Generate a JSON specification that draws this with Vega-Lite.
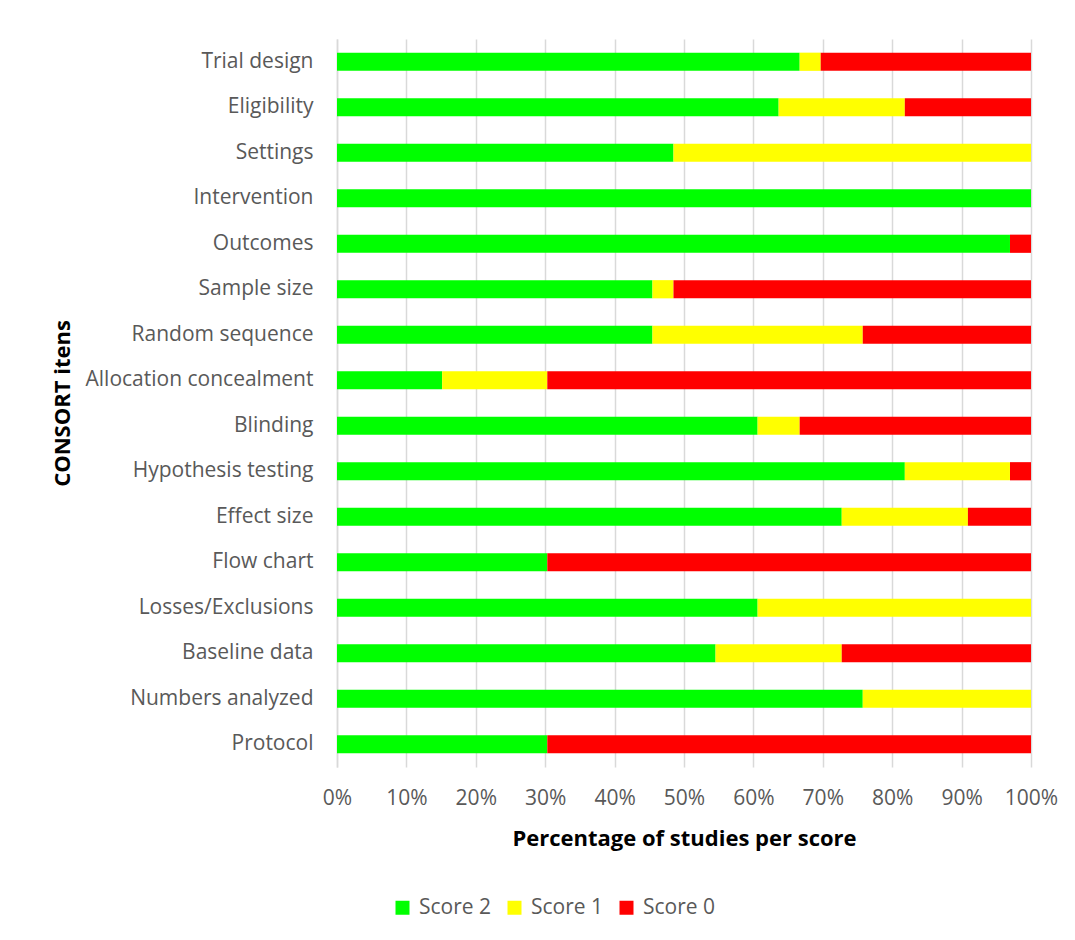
{
  "$schema": "https://vega.github.io/schema/vega-lite/v6.json",
  "autosize": {"type": "none"},
  "padding": {"left": 337, "top": 39, "right": 44, "bottom": 173},
  "width": 694,
  "height": 728,
  "background": "white",
  "config": {
    "font": "Open Sans",
    "view": {"stroke": null}
  },
  "data": {
    "values": [
      {"item": "Trial design", "score": "Score 2", "rank": 1, "studies": 22},
      {"item": "Trial design", "score": "Score 1", "rank": 2, "studies": 1},
      {"item": "Trial design", "score": "Score 0", "rank": 3, "studies": 10},
      {"item": "Eligibility", "score": "Score 2", "rank": 1, "studies": 21},
      {"item": "Eligibility", "score": "Score 1", "rank": 2, "studies": 6},
      {"item": "Eligibility", "score": "Score 0", "rank": 3, "studies": 6},
      {"item": "Settings", "score": "Score 2", "rank": 1, "studies": 16},
      {"item": "Settings", "score": "Score 1", "rank": 2, "studies": 17},
      {"item": "Settings", "score": "Score 0", "rank": 3, "studies": 0},
      {"item": "Intervention", "score": "Score 2", "rank": 1, "studies": 33},
      {"item": "Intervention", "score": "Score 1", "rank": 2, "studies": 0},
      {"item": "Intervention", "score": "Score 0", "rank": 3, "studies": 0},
      {"item": "Outcomes", "score": "Score 2", "rank": 1, "studies": 32},
      {"item": "Outcomes", "score": "Score 1", "rank": 2, "studies": 0},
      {"item": "Outcomes", "score": "Score 0", "rank": 3, "studies": 1},
      {"item": "Sample size", "score": "Score 2", "rank": 1, "studies": 15},
      {"item": "Sample size", "score": "Score 1", "rank": 2, "studies": 1},
      {"item": "Sample size", "score": "Score 0", "rank": 3, "studies": 17},
      {"item": "Random sequence", "score": "Score 2", "rank": 1, "studies": 15},
      {"item": "Random sequence", "score": "Score 1", "rank": 2, "studies": 10},
      {"item": "Random sequence", "score": "Score 0", "rank": 3, "studies": 8},
      {"item": "Allocation concealment", "score": "Score 2", "rank": 1, "studies": 5},
      {"item": "Allocation concealment", "score": "Score 1", "rank": 2, "studies": 5},
      {"item": "Allocation concealment", "score": "Score 0", "rank": 3, "studies": 23},
      {"item": "Blinding", "score": "Score 2", "rank": 1, "studies": 20},
      {"item": "Blinding", "score": "Score 1", "rank": 2, "studies": 2},
      {"item": "Blinding", "score": "Score 0", "rank": 3, "studies": 11},
      {"item": "Hypothesis testing", "score": "Score 2", "rank": 1, "studies": 27},
      {"item": "Hypothesis testing", "score": "Score 1", "rank": 2, "studies": 5},
      {"item": "Hypothesis testing", "score": "Score 0", "rank": 3, "studies": 1},
      {"item": "Effect size", "score": "Score 2", "rank": 1, "studies": 24},
      {"item": "Effect size", "score": "Score 1", "rank": 2, "studies": 6},
      {"item": "Effect size", "score": "Score 0", "rank": 3, "studies": 3},
      {"item": "Flow chart", "score": "Score 2", "rank": 1, "studies": 10},
      {"item": "Flow chart", "score": "Score 1", "rank": 2, "studies": 0},
      {"item": "Flow chart", "score": "Score 0", "rank": 3, "studies": 23},
      {"item": "Losses/Exclusions", "score": "Score 2", "rank": 1, "studies": 20},
      {"item": "Losses/Exclusions", "score": "Score 1", "rank": 2, "studies": 13},
      {"item": "Losses/Exclusions", "score": "Score 0", "rank": 3, "studies": 0},
      {"item": "Baseline data", "score": "Score 2", "rank": 1, "studies": 18},
      {"item": "Baseline data", "score": "Score 1", "rank": 2, "studies": 6},
      {"item": "Baseline data", "score": "Score 0", "rank": 3, "studies": 9},
      {"item": "Numbers analyzed", "score": "Score 2", "rank": 1, "studies": 25},
      {"item": "Numbers analyzed", "score": "Score 1", "rank": 2, "studies": 8},
      {"item": "Numbers analyzed", "score": "Score 0", "rank": 3, "studies": 0},
      {"item": "Protocol", "score": "Score 2", "rank": 1, "studies": 10},
      {"item": "Protocol", "score": "Score 1", "rank": 2, "studies": 0},
      {"item": "Protocol", "score": "Score 0", "rank": 3, "studies": 23}
    ]
  },
  "mark": {"type": "bar"},
  "encoding": {
    "y": {
      "field": "item",
      "type": "nominal",
      "sort": null,
      "scale": {"paddingInner": 0.6, "paddingOuter": 0.3},
      "axis": {
        "title": "CONSORT itens",
        "titleFontSize": 22,
        "titleFontWeight": "bold",
        "titleColor": "#000000",
        "titleX": -275,
        "titleY": 364,
        "titleAlign": "center",
        "titleBaseline": "middle",
        "labelFontSize": 21,
        "labelColor": "#595959",
        "labelPadding": 24,
        "labelLimit": 320,
        "ticks": false,
        "domain": true,
        "domainColor": "#d9d9d9",
        "domainWidth": 1.5
      }
    },
    "x": {
      "field": "studies",
      "type": "quantitative",
      "stack": "normalize",
      "scale": {"domain": [0, 1], "nice": false},
      "axis": {
        "title": "Percentage of studies per score",
        "titleFontSize": 22,
        "titleFontWeight": "bold",
        "titleColor": "#000000",
        "titleY": 71,
        "titleBaseline": "middle",
        "values": [0, 0.1, 0.2, 0.3, 0.4, 0.5, 0.6, 0.7, 0.8, 0.9, 1],
        "format": ".0%",
        "labelFontSize": 21,
        "labelColor": "#595959",
        "labelPadding": 20,
        "labelFlush": false,
        "ticks": false,
        "domain": false,
        "grid": true,
        "gridColor": "#d9d9d9",
        "gridWidth": 1.5
      }
    },
    "color": {
      "field": "score",
      "type": "nominal",
      "scale": {
        "domain": ["Score 2", "Score 1", "Score 0"],
        "range": ["#00ff00", "#ffff00", "#ff0000"]
      },
      "legend": {
        "title": null,
        "orient": "none",
        "direction": "horizontal",
        "legendX": 55,
        "legendY": 858,
        "symbolType": "square",
        "symbolSize": 196,
        "symbolStrokeWidth": 0,
        "labelFontSize": 21,
        "labelColor": "#595959",
        "labelOffset": 6,
        "columnPadding": 12
      }
    },
    "order": {"field": "rank", "type": "quantitative"}
  }
}
